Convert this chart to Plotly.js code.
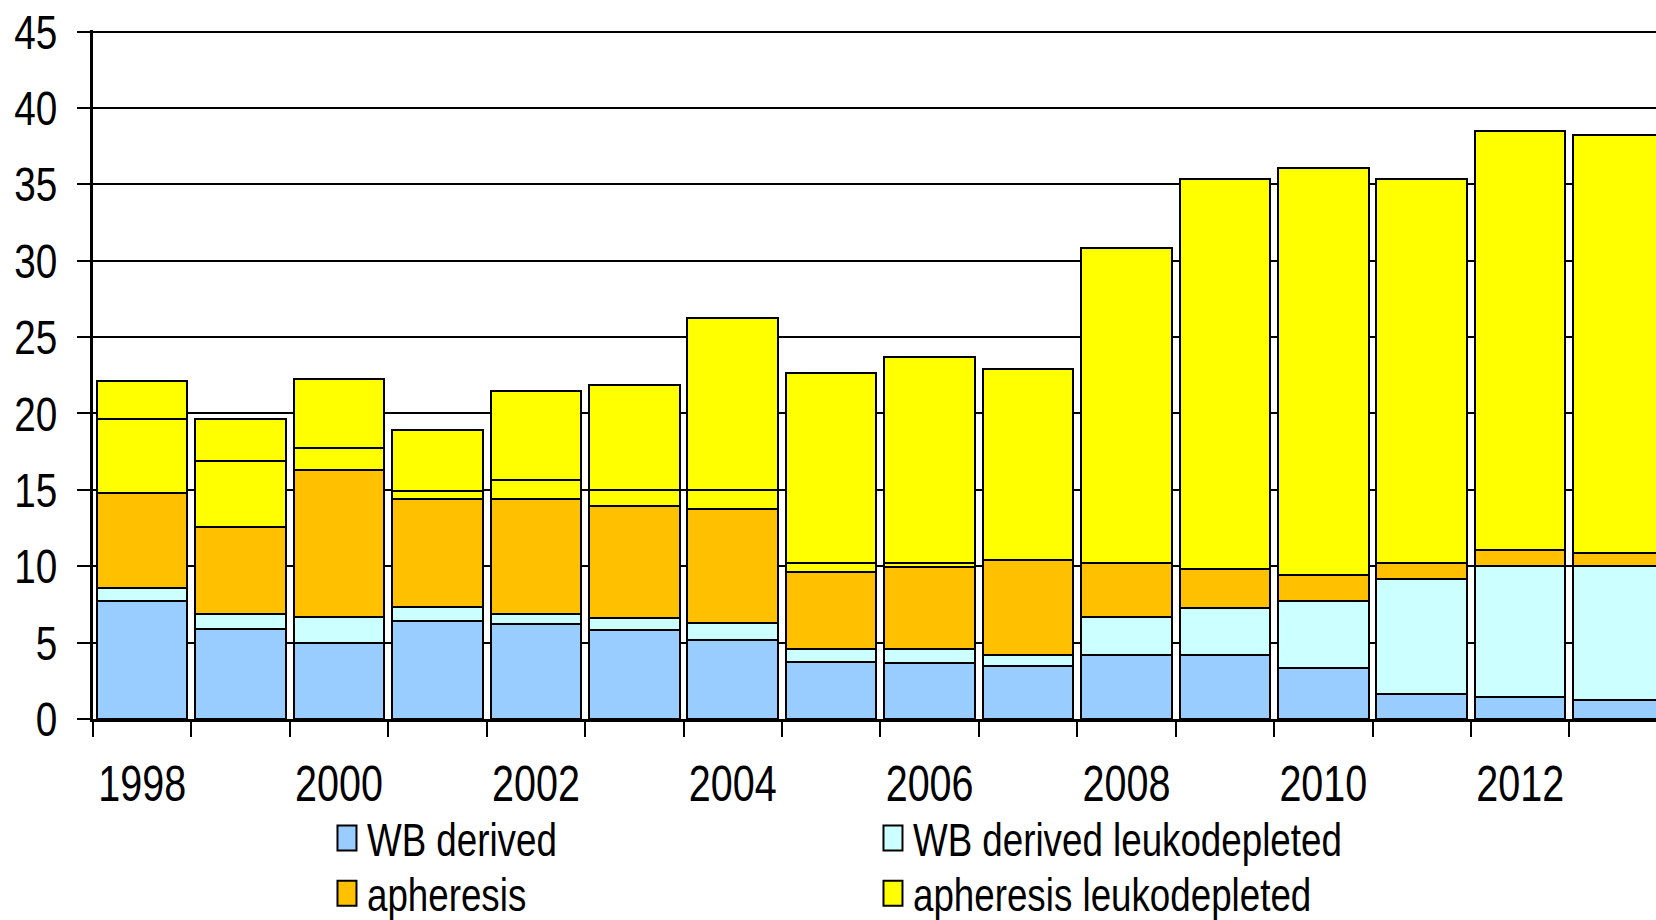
<!DOCTYPE html>
<html>
<head>
<meta charset="utf-8">
<script src="https://cdn.plot.ly/plotly-3.0.1.min.js"></script>
<style>
  html, body { margin: 0; padding: 0; background: #ffffff; }
  #chart { width: 1656px; height: 920px; }
</style>
</head>
<body>
<div id="chart"></div>
<script>
// Years (categories)
const years = [1998, 1999, 2000, 2001, 2002, 2003, 2004, 2005, 2006, 2007, 2008, 2009, 2010, 2011, 2012, 2013];

// Series values (stacked)
const wbDerived = [7.75, 5.87, 5.0, 6.42, 6.2, 5.82, 5.2, 3.72, 3.68, 3.5, 4.19, 4.19, 3.36, 1.66, 1.47, 1.26];
const wbDerivedLeuko = [0.8, 0.99, 1.7, 0.9, 0.66, 0.82, 1.1, 0.85, 0.9, 0.68, 2.49, 3.07, 4.36, 7.53, 8.55, 8.76];
const apheresis = [6.24, 5.68, 9.58, 7.07, 7.56, 7.29, 7.43, 5.02, 5.4, 6.24, 3.52, 2.54, 1.68, 1.01, 1.04, 0.85];
const apheresisLeuko = [4.82, 4.35, 1.45, 0.56, 1.21, 1.03, 1.27, 0.61, 0.2, 0, 0, 0, 0, 0, 0, 0];
const apheresisLeukoOther = [2.5, 2.72, 4.54, 3.98, 5.84, 6.89, 11.24, 12.48, 13.5, 12.48, 20.62, 25.57, 26.64, 25.17, 27.46, 27.38];

// Legend names
const seriesNames = ["WB derived", "WB derived leukodepleted", "apheresis", "apheresis leukodepleted"];

// Axis tick labels
const yTicks = [0, 5, 10, 15, 20, 25, 30, 35, 40, 45];
const xLabelYears = [1998, 2000, 2002, 2004, 2006, 2008, 2010, 2012];

const FONT = "'Liberation Sans', Arial, sans-serif";
const SQUEEZE = 0.79;
const outline = { color: "#000000", width: 2 };

function barTrace(name, values, color, legendId, showlegend) {
  return {
    type: "bar",
    name: name,
    x: years,
    y: values,
    marker: { color: color, line: outline },
    legend: legendId,
    showlegend: showlegend,
    hoverinfo: "x+y+name"
  };
}

const traces = [
  barTrace(seriesNames[0], wbDerived, "#99CCFF", "legend", true),
  barTrace(seriesNames[1], wbDerivedLeuko, "#CCFFFF", "legend", true),
  barTrace(seriesNames[2], apheresis, "#FFC000", "legend2", true),
  barTrace(seriesNames[3], apheresisLeuko, "#FFFF00", "legend2", true),
  barTrace(seriesNames[3], apheresisLeukoOther, "#FFFF00", "legend2", false)
];

const legendCommon = {
  orientation: "h",
  x: 0.1497,
  xanchor: "left",
  yanchor: "middle",
  entrywidth: 501,
  entrywidthmode: "pixels",
  traceorder: "normal",
  font: { family: FONT, size: 46.5, color: "#000000" },
  bgcolor: "rgba(0,0,0,0)",
  borderwidth: 0,
  itemclick: false,
  itemdoubleclick: false
};

const layout = {
  width: 1656,
  height: 920,
  margin: { l: 93, r: 0, t: 30, b: 201, pad: 0, autoexpand: false },
  paper_bgcolor: "#ffffff",
  plot_bgcolor: "#ffffff",
  barmode: "stack",
  bargap: 0.08,
  font: { family: FONT, size: 48, color: "#000000" },
  xaxis: {
    type: "linear",
    range: [1997.5, 2013.38],
    tickmode: "array",
    tickvals: xLabelYears,
    ticktext: xLabelYears.map(String),
    ticks: "",
    ticklabelstandoff: 19,
    showgrid: false,
    zeroline: false,
    showline: true,
    linecolor: "#000000",
    linewidth: 3,
    tickfont: { family: FONT, size: 50, color: "#000000" },
    minor: {
      tick0: 1997.5,
      dtick: 1,
      ticks: "outside",
      ticklen: 15,
      tickwidth: 2,
      tickcolor: "#000000",
      showgrid: false
    },
    fixedrange: true
  },
  yaxis: {
    range: [0, 45.1],
    tickmode: "array",
    tickvals: yTicks,
    ticktext: yTicks.map(String),
    ticks: "outside",
    ticklen: 13,
    tickwidth: 2,
    tickcolor: "#000000",
    ticklabelstandoff: 10,
    showgrid: true,
    gridcolor: "#000000",
    gridwidth: 2,
    zeroline: false,
    showline: true,
    linecolor: "#000000",
    linewidth: 3,
    tickfont: { family: FONT, size: 49, color: "#000000" },
    fixedrange: true
  },
  legend: Object.assign({}, legendCommon, { y: -0.1732 }),
  legend2: Object.assign({}, legendCommon, { y: -0.2533 }),
  showlegend: true
};

// Horizontally condense text (the reference uses a narrow sans-serif face)
function condense(t, sx) {
  let natural = t.getAttribute("data-natural-length");
  if (natural === null) {
    t.removeAttribute("textLength");
    natural = String(t.getComputedTextLength());
    t.setAttribute("data-natural-length", natural);
  }
  const len = parseFloat(natural);
  if (len > 0) {
    t.setAttribute("lengthAdjust", "spacingAndGlyphs");
    t.setAttribute("textLength", (len * sx).toFixed(2));
  }
}

function restyleLegendSwatches(root) {
  root.querySelectorAll(".legendpoints path").forEach(function (p) {
    p.setAttribute("d", "M9.5,12.5H-9.5V-12.5H9.5Z");
    p.style.strokeWidth = "2px";
    p.style.stroke = "#000000";
  });
}

const gd = document.getElementById("chart");

function finish() {
  gd.querySelectorAll(".xtick text, .ytick text").forEach(function (t) { condense(t, SQUEEZE); });
  gd.querySelectorAll("g.infolayer text").forEach(function (t) {
    if ((t.textContent || "").trim().length) condense(t, SQUEEZE);
  });
  restyleLegendSwatches(gd);
}

Plotly.newPlot(gd, traces, layout, { displayModeBar: false, staticPlot: true }).then(function () {
  finish();
  setTimeout(finish, 0);
  setTimeout(finish, 50);
  setTimeout(finish, 200);
});
if (gd.on) gd.on("plotly_afterplot", function () { setTimeout(finish, 0); });
</script>
</body>
</html>
